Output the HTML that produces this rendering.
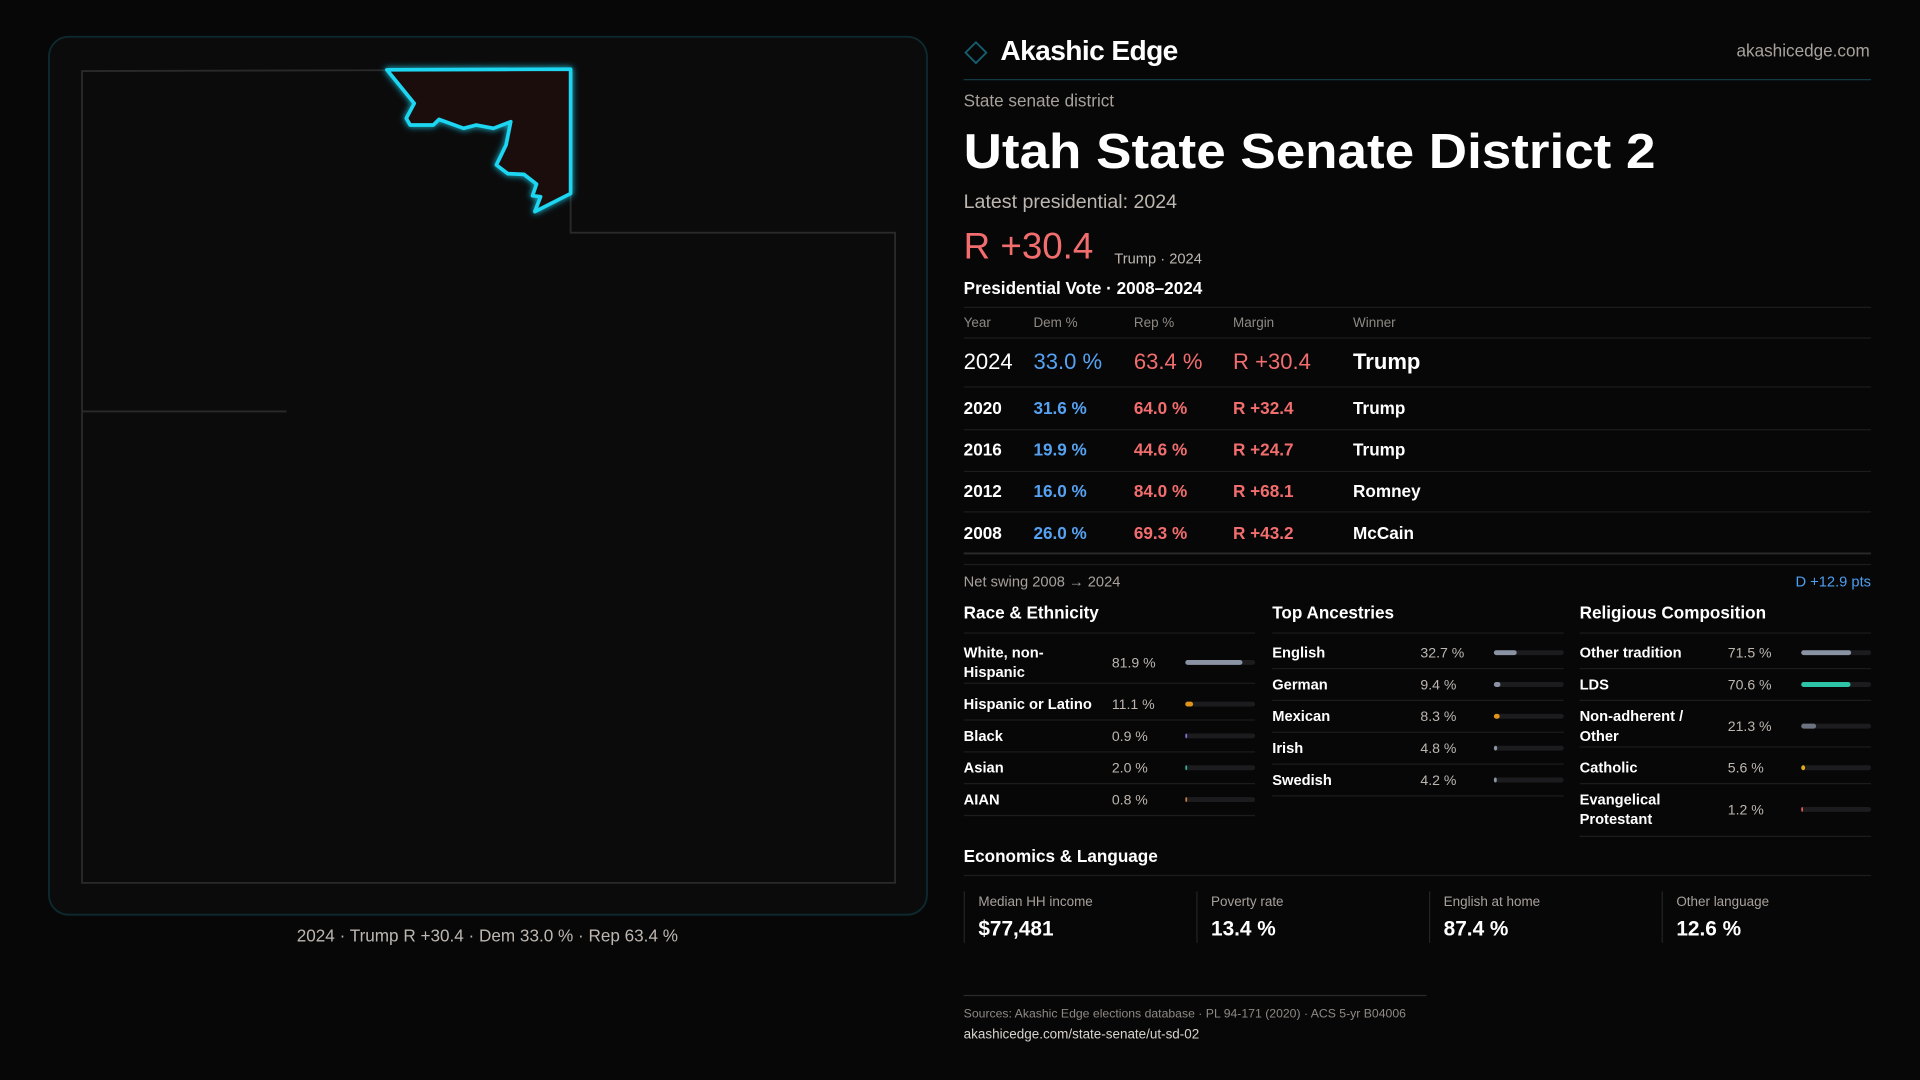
<!DOCTYPE html>
<html><head><meta charset="utf-8">
<style>
html,body{margin:0;padding:0;background:#070708;width:1920px;height:1080px;overflow:hidden}
svg{display:block}
text{font-family:"Liberation Sans",sans-serif}
</style></head>
<body>
<svg id="root" width="1920" height="1080" viewBox="0 0 1568 882" xmlns="http://www.w3.org/2000/svg">
<defs>
<filter id="glow" x="-20%" y="-20%" width="140%" height="140%"><feGaussianBlur stdDeviation="2.5" result="b"/><feMerge><feMergeNode in="b"/><feMergeNode in="SourceGraphic"/></feMerge></filter>
</defs>
<rect width="1568" height="882" fill="#070708"/>
<g>
<rect x="40" y="30" width="717" height="717" rx="16" fill="#0b0b0c" stroke="#0e2a31" stroke-width="1.5"/>
<polygon points="67,58 466,57 466,190 731,190 731,721 67,721" fill="none" stroke="#2a2a2b" stroke-width="1.5"/>
<line x1="67" y1="336" x2="234" y2="336" stroke="#2a2a2b" stroke-width="1.5"/>
<polygon filter="url(#glow)" points="316,57 466,56.5 466,158 436.8,172.8 441.5,160.6 434.9,159.8 438.2,150.3 427.9,142.4 414.7,141.8 405.4,134.7 413.3,118.4 417.1,99.4 403,104.8 389,102.1 378.6,104.8 358.5,97.5 353.8,102.1 335,102.1 331.8,96.6 338.3,84.4" fill="#1e0e0f" stroke="#1ad6f2" stroke-width="3" stroke-linejoin="round"/>
</g>
<text x="398" y="769" text-anchor="middle" font-size="14" fill="#bdb6b0">2024 · Trump R +30.4 · Dem 33.0 % · Rep 63.4 %</text>

<g>
<rect x="791" y="37" width="12" height="12" transform="rotate(45 797 43)" fill="none" stroke="#14606e" stroke-width="1.5"/>
<text x="817" y="49" font-size="23" font-weight="bold" fill="#fff" letter-spacing="-0.5">Akashic Edge</text>
<text x="1527" y="46" text-anchor="end" font-size="14" fill="#a8a19b">akashicedge.com</text>
<line x1="787" y1="65" x2="1528" y2="65" stroke="#123a42" stroke-width="1"/>
</g>
<text x="787" y="87" font-size="14" fill="#a8a19b">State senate district</text>
<text x="787" y="137" font-size="40" font-weight="bold" fill="#fff" textLength="565" lengthAdjust="spacingAndGlyphs">Utah State Senate District 2</text>
<text x="787" y="170" font-size="16" fill="#bdb6b0">Latest presidential: 2024</text>
<text x="787" y="211" font-size="30" fill="#f26d6d">R +30.4</text>
<text x="910" y="215" font-size="12" fill="#bdb6b0">Trump · 2024</text>
<text x="787" y="240" font-size="14" font-weight="bold" fill="#fff">Presidential Vote · 2008–2024</text>
<g id="voteTable"></g>
<text x="787" y="479" font-size="12" fill="#a8a19b">Net swing 2008 → 2024</text>
<text x="1528" y="479" text-anchor="end" font-size="12" fill="#4d9ff0">D +12.9 pts</text>
<g id="demo"></g>
<text x="787" y="704" font-size="14" font-weight="bold" fill="#fff">Economics &amp; Language</text>
<line x1="787" y1="715" x2="1528" y2="715" stroke="#1c1c1e"/>
<g id="econ"></g>
<line x1="787" y1="813" x2="1165" y2="813" stroke="#2a2a2b"/>
<text x="787" y="831" font-size="10" fill="#8f8984">Sources: Akashic Edge elections database · PL 94-171 (2020) · ACS 5-yr B04006</text>
<text x="787" y="848" font-size="11" fill="#d8d2cc">akashicedge.com/state-senate/ut-sd-02</text>
</svg>
<script>
const NS='http://www.w3.org/2000/svg';
const years=['2024','2020','2016','2012','2008'];
const demPct=[33.0,31.6,19.9,16.0,26.0];
const repPct=[63.4,64.0,44.6,84.0,69.3];
const margins=[30.4,32.4,24.7,68.1,43.2];
const winners=['Trump','Trump','Trump','Romney','McCain'];
const raceLabels=[['White, non-','Hispanic'],['Hispanic or Latino'],['Black'],['Asian'],['AIAN']];
const raceValues=[81.9,11.1,0.9,2.0,0.8];
const raceColors=['#8a93a3','#e0951a','#8b6fd8','#2db39a','#c87a3a'];
const ancLabels=[['English'],['German'],['Mexican'],['Irish'],['Swedish']];
const ancValues=[32.7,9.4,8.3,4.8,4.2];
const ancColors=['#8a93a3','#8a93a3','#e0951a','#8a93a3','#8a93a3'];
const relLabels=[['Other tradition'],['LDS'],['Non-adherent /','Other'],['Catholic'],['Evangelical','Protestant']];
const relValues=[71.5,70.6,21.3,5.6,1.2];
const relColors=['#8a93a3','#2ec4a8','#6b7280','#e0a81a','#e05a5a'];
const econLabels=['Median HH income','Poverty rate','English at home','Other language'];
const econValues=['$77,481','13.4 %','87.4 %','12.6 %'];

function mk(tag,attrs,parent,txt){const e=document.createElementNS(NS,tag);for(const k in attrs)e.setAttribute(k,attrs[k]);if(txt!==undefined)e.textContent=txt;parent.appendChild(e);return e;}

const vt=document.getElementById('voteTable');
const cols=[787,844,926,1007,1105];
mk('line',{x1:787,y1:251,x2:1528,y2:251,stroke:'#1c1c1e'},vt);
['Year','Dem %','Rep %','Margin','Winner'].forEach((h,i)=>{const t=mk('text',{x:cols[i],y:267,'font-size':11,fill:'#8f8984'},vt,h);

});
mk('line',{x1:787,y1:276,x2:1528,y2:276,stroke:'#1c1c1e'},vt);
const rowY=[295,333,367,401,435], sepY=[316,351,385,418,452];
years.forEach((y,i)=>{
  const g=mk('g',{},vt);
  
  
  const fs=i===0?18:14, fw=i===0?'normal':'bold', by=rowY[i]+fs*0.36;
  const mg='R +'+margins[i].toFixed(1);
  mk('text',{x:cols[0],y:by,'font-size':fs,'font-weight':fw,fill:'#fff'},g,y);
  mk('text',{x:cols[1],y:by,'font-size':fs,'font-weight':fw,fill:'#56a2f2'},g,demPct[i].toFixed(1)+' %');
  mk('text',{x:cols[2],y:by,'font-size':fs,'font-weight':fw,fill:'#f26d6d'},g,repPct[i].toFixed(1)+' %');
  mk('text',{x:cols[3],y:by,'font-size':fs,'font-weight':fw,fill:'#f26d6d'},g,mg);
  mk('text',{x:cols[4],y:by,'font-size':fs,'font-weight':'bold',fill:'#fff'},g,winners[i]);
  mk('line',{x1:787,y1:sepY[i],x2:1528,y2:sepY[i],stroke:i===4?'#2a2a2b':'#1c1c1e','stroke-width':i===4?1.5:1},g);
});
mk('line',{x1:787,y1:461,x2:1528,y2:461,stroke:'#1c1c1e'},vt);

const demo=document.getElementById('demo');
function panel(x,title,labels,vals,colors,rowsY,seps,name){
  const g=mk('g',{},demo);
  
  
  mk('text',{x:x,y:505,'font-size':14,'font-weight':'bold',fill:'#fff'},g,title);
  mk('line',{x1:x,y1:517,x2:x+238,y2:517,stroke:'#1c1c1e'},g);
  labels.forEach((lb,i)=>{
    const cy=rowsY[i];
    const r=mk('g',{},g);
    
    
    lb.forEach((l,j)=>mk('text',{x:x,y:cy+4+(j-(lb.length-1)/2)*16,'font-size':12,'font-weight':'bold',fill:'#fff'},r,l));
    mk('text',{x:x+121,y:cy+4,'font-size':11.5,fill:'#bdb6b0'},r,vals[i].toFixed(1)+' %');
    mk('rect',{x:x+181,y:cy-2,width:57,height:4,rx:2,fill:'#1c1c1e'},r);
    const b=mk('rect',{x:x+181,y:cy-2,width:Math.max(1.5,57*vals[i]/100),height:4,rx:2,fill:colors[i]},r);
    
    
    mk('line',{x1:x,y1:seps[i],x2:x+238,y2:seps[i],stroke:'#1c1c1e'},r);
  });
}
panel(787,'Race & Ethnicity',raceLabels,raceValues,raceColors,[541,575,601,627,653],[558,588,614,640,666],'race-ethnicity-panel');
panel(1039,'Top Ancestries',ancLabels,ancValues,ancColors,[533,559,585,611,637],[546,572,598,624,650],'ancestry-panel');
panel(1290,'Religious Composition',relLabels,relValues,relColors,[533,559,593,627,661],[546,572,610,640,683],'religion-panel');

const ec=document.getElementById('econ');
econLabels.forEach((l,i)=>{
  const x=787+i*190;
  const g=mk('g',{},ec);
  
  
  mk('line',{x1:x+0.5,y1:728,x2:x+0.5,y2:770,stroke:'#242426'},g);
  mk('text',{x:x+12,y:740,'font-size':11,fill:'#a8a19b'},g,l);
  mk('text',{x:x+12,y:764,'font-size':17,'font-weight':'bold',fill:'#fff'},g,econValues[i]);
});
</script>
</body></html>
